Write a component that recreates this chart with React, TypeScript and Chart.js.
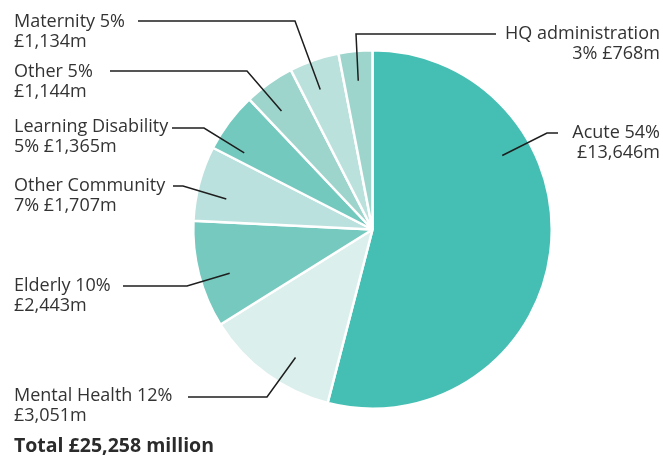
import React, { useEffect, useRef } from "react";
import { Chart, registerables } from "chart.js";

Chart.register(...registerables);

const categories = [
  "Acute",
  "Mental Health",
  "Elderly",
  "Other Community",
  "Learning Disability",
  "Other",
  "Maternity",
  "HQ administration",
];
const valuesM = [13646, 3051, 2443, 1707, 1365, 1144, 1134, 768];
const percents = [54, 12, 10, 7, 5, 5, 5, 3];
const colors = ["#45bfb3", "#dbefec", "#75c9be", "#bae1dd", "#74c9bf", "#9dd5cc", "#bbe1dd", "#9dd5cc"];
// whether the percentage sits on the first line (true) or second line (false)
const pctOnFirstLine = [true, true, true, false, false, true, true, false];
const totalLabel = "Total £25,258 million";

const fmt = (v: number) => "£" + v.toLocaleString("en-GB") + "m";

// layout of the labels (positions only)
const labelLayout = [
  { f: 0.31, elbow: [547, 133], end: [558, 133], tx: 660, ty: 133, align: "right" },
  { f: 0.38, elbow: [267, 397], end: [188, 397], tx: 14, ty: 396, align: "left" },
  { f: 0.43, elbow: [187, 286], end: [123, 286], tx: 14, ty: 286, align: "left" },
  { f: 0.37, elbow: [183, 186], end: [173, 186], tx: 14, ty: 186, align: "left" },
  { f: 0.19, elbow: [204, 128], end: [172, 128], tx: 14, ty: 127, align: "left" },
  { f: 0.36, elbow: [247, 71], end: [110, 71], tx: 14, ty: 72, align: "left" },
  { f: 0.41, elbow: [295, 21], end: [138, 21], tx: 14, ty: 22, align: "left" },
  { f: 0.5, elbow: [356, 34], end: [496, 34], tx: 660, ty: 34, align: "right" },
];

const FONT = "'Open Sans', Lato, sans-serif";

const labelPlugin = {
  id: "leaderLabels",
  afterDraw(chart: any) {
    const ctx = chart.ctx;
    const meta = chart.getDatasetMeta(0);
    ctx.save();
    meta.data.forEach((arc: any, i: number) => {
      const p = arc.getProps(["x", "y", "startAngle", "endAngle", "outerRadius"], true);
      const L = labelLayout[i];
      const a = p.startAngle + L.f * (p.endAngle - p.startAngle);
      const r = p.outerRadius * (150 / 180);
      const ax = p.x + r * Math.cos(a);
      const ay = p.y + r * Math.sin(a);
      ctx.strokeStyle = "#1e1e1e";
      ctx.lineWidth = 1.5;
      ctx.beginPath();
      ctx.moveTo(ax, ay);
      ctx.lineTo(L.elbow[0], L.elbow[1]);
      ctx.lineTo(L.end[0], L.end[1]);
      ctx.stroke();

      const name = categories[i];
      const pct = percents[i] + "%";
      const val = fmt(valuesM[i]);
      const l1 = pctOnFirstLine[i] ? `${name} ${pct}` : name;
      const l2 = pctOnFirstLine[i] ? val : `${pct} ${val}`;
      ctx.fillStyle = "#333333";
      ctx.font = `18px ${FONT}`;
      ctx.textBaseline = "middle";
      ctx.textAlign = L.align;
      ctx.fillText(l1, L.tx, L.ty);
      ctx.fillText(l2, L.tx, L.ty + 19.5);
    });
    ctx.font = `bold 19.5px ${FONT}`;
    ctx.textAlign = "left";
    ctx.textBaseline = "middle";
    ctx.fillStyle = "#2b2b2b";
    ctx.fillText(totalLabel, 14, 446);
    ctx.restore();
  },
};

export default function App() {
  const ref = useRef<HTMLCanvasElement | null>(null);
  useEffect(() => {
    if (!ref.current) return;
    const chart = new Chart(ref.current, {
      type: "pie",
      data: {
        labels: categories,
        datasets: [
          {
            data: valuesM,
            backgroundColor: colors,
            borderColor: "#ffffff",
            borderWidth: 2.5,
          },
        ],
      },
      options: {
        animation: false,
        responsive: false,
        maintainAspectRatio: false,
        layout: { padding: { top: 49, bottom: 46, left: 192, right: 110 } },
        plugins: { legend: { display: false }, tooltip: { enabled: false } },
      },
      plugins: [labelPlugin],
    });
    return () => chart.destroy();
  }, []);
  return (
    <div style={{ position: "absolute", left: 0, top: 0, width: 663, height: 456, background: "#fff" }}>
      <canvas ref={ref} width={663} height={456} style={{ width: 663, height: 456 }} />
    </div>
  );
}
